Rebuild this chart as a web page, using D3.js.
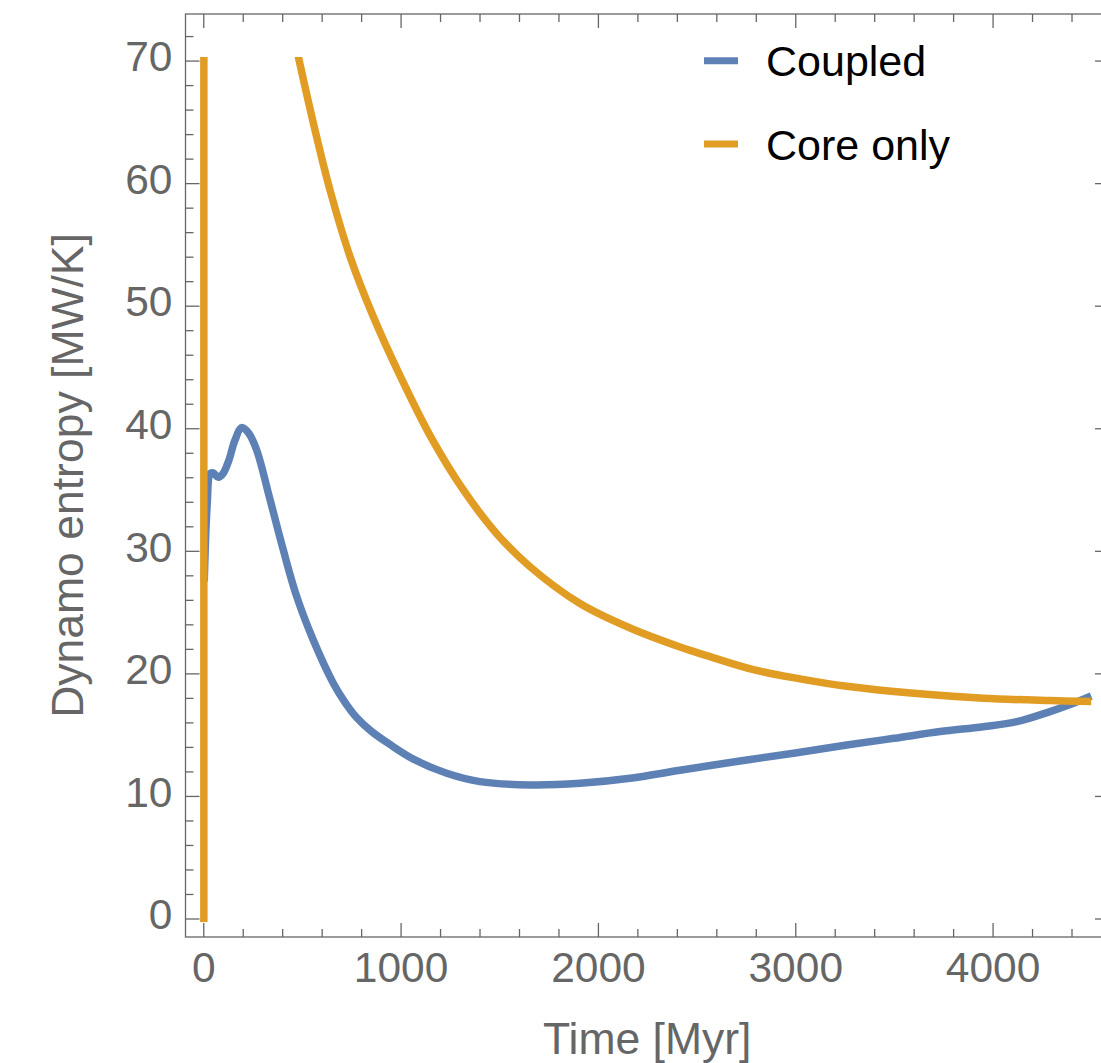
<!DOCTYPE html>
<html>
<head>
<meta charset="utf-8">
<script src="https://cdn.jsdelivr.net/npm/d3@7"></script>
<style>
  html, body { margin: 0; padding: 0; background: #fff; }
  svg { display: block; font-family: "Liberation Sans", Arial, Helvetica, sans-serif; }
</style>
</head>
<body>
<svg id="chart" width="1101" height="1063"></svg>
<script>
// ---- data ----
const seriesNames = ["Coupled", "Core only"];
const seriesColors = ["#5E81B5", "#E19C24"];

const coupledT = [5, 20, 35, 50, 76, 100, 130, 160, 195, 230, 271, 338, 405, 473, 558, 659, 720, 777, 850, 946, 1065, 1234, 1402, 1656, 1909, 2163, 2416, 2720, 3000, 3261, 3500, 3734, 3953, 4123, 4291, 4400, 4500];
const coupledV = [27.5, 33.8, 36.3, 36.35, 36.0, 36.3, 37.4, 39.0, 40.05, 39.6, 38.2, 34.2, 30.1, 26.3, 22.7, 19.2, 17.6, 16.4, 15.3, 14.2, 13.0, 11.85, 11.17, 10.9, 11.03, 11.44, 12.1, 12.85, 13.5, 14.16, 14.7, 15.25, 15.65, 16.06, 16.88, 17.5, 18.15];

// Core only: an initial spike at t≈3 (clipped by the plot range), then the decay from t≈480
const coreT = [3, 3, NaN, 470, 482, 558, 642, 744, 862, 1000, 1153, 1318, 1487, 1656, 1909, 2163, 2416, 2551, 2788, 3024, 3261, 3616, 3953, 4291, 4500];
const coreV = [-0.3, 71, NaN, 71.2, 70.3, 64.9, 59.45, 54.0, 49.1, 44.2, 39.3, 34.97, 31.4, 28.7, 25.7, 23.7, 22.15, 21.45, 20.3, 19.55, 18.95, 18.35, 17.97, 17.78, 17.7];

const xMajorTicks = [0, 1000, 2000, 3000, 4000];
const xMinorTicks = d3.range(0, 4600, 200).filter(v => v % 1000 !== 0);
const yMajorTicks = [0, 10, 20, 30, 40, 50, 60, 70];
const yMinorTicks = d3.range(0, 74, 2).filter(v => v % 10 !== 0);

const xTitle = "Time [Myr]";
const yTitle = "Dynamo entropy [MW/K]";

// ---- layout ----
const frame = { left: 185.5, right: 1109, top: 14, bottom: 937 };
const frameColor = "#666666";

const x = d3.scaleLinear().domain([-90, 4590]).range([frame.left, frame.right]);
const y = d3.scaleLinear().domain([-1.51, 73.8]).range([frame.bottom, frame.top]);

const svg = d3.select("#chart");

// clip for plotted data (plot range ~[-0.3, 70.3])
svg.append("defs").append("clipPath").attr("id", "plotclip")
  .append("rect")
  .attr("x", frame.left).attr("width", frame.right - frame.left)
  .attr("y", y(70.3)).attr("height", y(-0.3) - y(70.3));

// ---- ticks ----
function styleAxis(g) {
  g.select(".domain").remove();
  g.selectAll(".tick line").attr("stroke", frameColor).attr("stroke-width", 1.3);
  g.selectAll(".tick text").attr("fill", "#666666").attr("font-size", 42.5)
    .attr("font-family", "Liberation Sans, Arial, Helvetica, sans-serif");
}

// bottom major (labeled)
svg.append("g").attr("transform", `translate(0,${frame.bottom})`)
  .call(d3.axisBottom(x).tickValues(xMajorTicks).tickSizeInner(-14).tickSizeOuter(0).tickPadding(15).tickFormat(d3.format("d")))
  .call(styleAxis);
// bottom minor
svg.append("g").attr("transform", `translate(0,${frame.bottom})`)
  .call(d3.axisBottom(x).tickValues(xMinorTicks).tickSizeInner(-8).tickSizeOuter(0).tickFormat(""))
  .call(styleAxis);
// top major + minor (no labels)
svg.append("g").attr("transform", `translate(0,${frame.top})`)
  .call(d3.axisTop(x).tickValues(xMajorTicks).tickSizeInner(-14).tickSizeOuter(0).tickFormat(""))
  .call(styleAxis);
svg.append("g").attr("transform", `translate(0,${frame.top})`)
  .call(d3.axisTop(x).tickValues(xMinorTicks).tickSizeInner(-8).tickSizeOuter(0).tickFormat(""))
  .call(styleAxis);

// left major (labeled)
const leftAxis = svg.append("g").attr("transform", `translate(${frame.left},0)`)
  .call(d3.axisLeft(y).tickValues(yMajorTicks).tickSizeInner(-14).tickSizeOuter(0).tickPadding(13).tickFormat(d3.format("d")))
  .call(styleAxis);
leftAxis.selectAll(".tick text").attr("dy", "0.24em");
// left minor
svg.append("g").attr("transform", `translate(${frame.left},0)`)
  .call(d3.axisLeft(y).tickValues(yMinorTicks).tickSizeInner(-8).tickSizeOuter(0).tickFormat(""))
  .call(styleAxis);
// right major + minor
svg.append("g").attr("transform", `translate(${frame.right},0)`)
  .call(d3.axisRight(y).tickValues(yMajorTicks).tickSizeInner(-14).tickSizeOuter(0).tickFormat(""))
  .call(styleAxis);
svg.append("g").attr("transform", `translate(${frame.right},0)`)
  .call(d3.axisRight(y).tickValues(yMinorTicks).tickSizeInner(-8).tickSizeOuter(0).tickFormat(""))
  .call(styleAxis);

// frame
svg.append("rect")
  .attr("x", frame.left).attr("y", frame.top)
  .attr("width", frame.right - frame.left).attr("height", frame.bottom - frame.top)
  .attr("fill", "none").attr("stroke", frameColor).attr("stroke-width", 1.3);

// ---- lines ----
const plot = svg.append("g").attr("clip-path", "url(#plotclip)");

const coupledData = coupledT.map((t, i) => ({ t, v: coupledV[i] }));
const coreData = coreT.map((t, i) => ({ t, v: coreV[i] }));

const lineGen = d3.line()
  .defined(d => !isNaN(d.t) && !isNaN(d.v))
  .x(d => x(d.t)).y(d => y(d.v))
  .curve(d3.curveCatmullRom.alpha(0.5));

plot.append("path").datum(coupledData)
  .attr("d", lineGen)
  .attr("fill", "none").attr("stroke", seriesColors[0])
  .attr("stroke-width", 7.5).attr("stroke-linejoin", "round");

plot.append("path").datum(coreData)
  .attr("d", lineGen)
  .attr("fill", "none").attr("stroke", seriesColors[1])
  .attr("stroke-width", 7.5).attr("stroke-linejoin", "round");

// ---- axis titles ----
svg.append("text")
  .attr("x", (frame.left + frame.right) / 2).attr("y", 1054)
  .attr("text-anchor", "middle").attr("fill", "#666666").attr("font-size", 44.5)
  .text(xTitle);

svg.append("text")
  .attr("transform", `translate(83,${(frame.top + frame.bottom) / 2}) rotate(-90)`)
  .attr("text-anchor", "middle").attr("fill", "#666666").attr("font-size", 44.5)
  .text(yTitle);

// ---- legend ----
const legendY = [60.7, 144];
const legend = svg.append("g");
seriesNames.forEach((name, i) => {
  legend.append("line")
    .attr("x1", 704).attr("x2", 738)
    .attr("y1", legendY[i]).attr("y2", legendY[i])
    .attr("stroke", seriesColors[i]).attr("stroke-width", 7);
  legend.append("text")
    .attr("x", 766).attr("y", legendY[i] + 15.5)
    .attr("fill", "#000").attr("font-size", 43)
    .text(name);
});
</script>
</body>
</html>
